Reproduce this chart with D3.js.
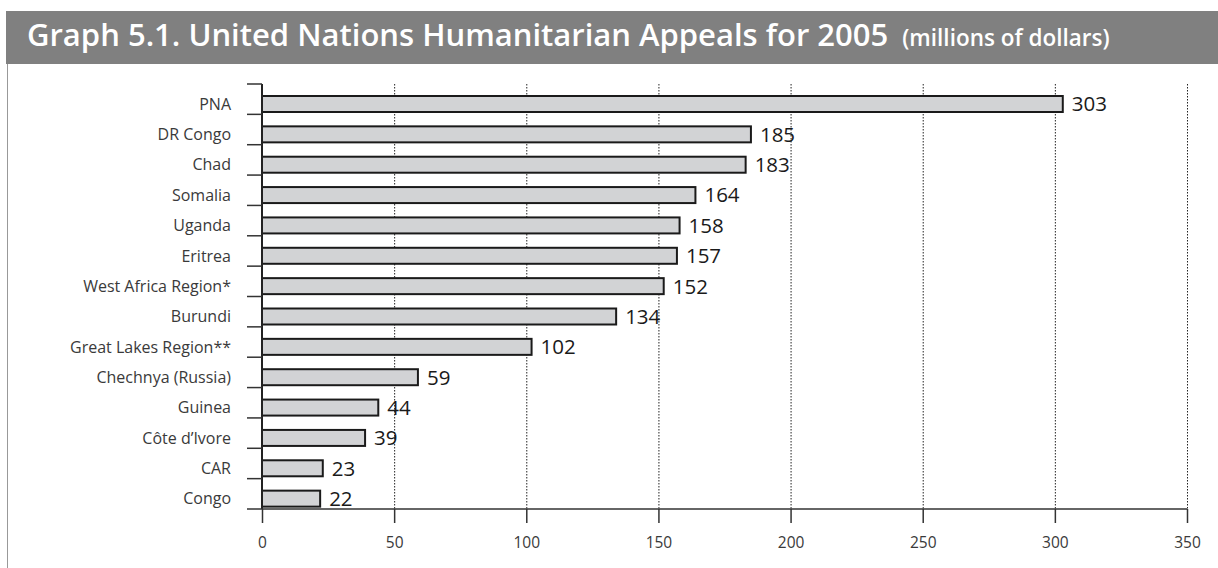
<!DOCTYPE html>
<html><head><meta charset="utf-8">
<script src="https://cdn.jsdelivr.net/npm/d3@7"></script>
<style>body{margin:0;background:#fff;}svg{display:block;}</style>
</head><body>
<svg id="c" width="1218" height="568"></svg>
<script>
const categories = ["PNA","DR Congo","Chad","Somalia","Uganda","Eritrea","West Africa Region*","Burundi","Great Lakes Region**","Chechnya (Russia)","Guinea","Côte d’Ivore","CAR","Congo"];
const values = [303,185,183,164,158,157,152,134,102,59,44,39,23,22];
const xTicks = [0,50,100,150,200,250,300,350];
const titleMain = "Graph 5.1. United Nations Humanitarian Appeals for 2005";
const titleSub = "(millions of dollars)";

const svg = d3.select("#c");
const font = "'Open Sans', 'Noto Sans', sans-serif";

// title bar
svg.append("rect").attr("x",6).attr("y",11).attr("width",1212).attr("height",53).attr("fill","#808080");
const t = svg.append("text").attr("x",27).attr("y",46).attr("fill","#fff").attr("font-family",font);
t.append("tspan").attr("font-size",31).attr("font-weight",600).text(titleMain);
t.append("tspan").attr("font-size",22.5).attr("font-weight",600).attr("dx",14).text(titleSub);

// left border
svg.append("line").attr("x1",7.5).attr("x2",7.5).attr("y1",64).attr("y2",568).attr("stroke","#999").attr("stroke-width",1);

const x = d3.scaleLinear().domain([0,350]).range([262,1187]);
const y = d3.scaleBand().domain(categories).range([84,509]);

// gridlines
svg.append("g").selectAll("line").data(xTicks).join("line")
  .attr("x1",d=>x(d)+0.5).attr("x2",d=>x(d)+0.5).attr("y1",84).attr("y2",509)
  .attr("stroke","#222").attr("stroke-width",1).attr("stroke-dasharray","1.5,1.5");

// bars
const bh = 16;
svg.append("g").selectAll("rect").data(values).join("rect")
  .attr("x",x(0)).attr("y",(d,i)=>y(categories[i])+12)
  .attr("width",d=>x(d)-x(0)).attr("height",bh)
  .attr("fill","#d2d3d5").attr("stroke","#1a1a1a").attr("stroke-width",2);

// value labels
svg.append("g").selectAll("text").data(values).join("text")
  .attr("x",d=>x(d)+9).attr("y",(d,i)=>y(categories[i])+12+bh/2)
  .attr("dy","0.36em").attr("font-family",font).attr("font-size",20.5).attr("fill","#1a1a1a")
  .text(d=>d);

// y axis
const ya = svg.append("g");
ya.append("line").attr("x1",262).attr("x2",262).attr("y1",84).attr("y2",509).attr("stroke","#222").attr("stroke-width",2);
ya.selectAll("line.tk").data(categories).join("line").attr("class","tk")
  .attr("x1",247).attr("x2",262).attr("y1",d=>y(d)).attr("y2",d=>y(d))
  .attr("stroke","#333").attr("stroke-width",1.5);
ya.selectAll("text").data(categories).join("text")
  .attr("x",231).attr("y",d=>y(d)+12+bh/2).attr("dy","0.36em")
  .attr("text-anchor","end").attr("font-family",font).attr("font-size",16).attr("font-weight",400).attr("fill","#3a3a3a")
  .text(d=>d);

// x axis
const xa = svg.append("g").attr("transform","translate(0,509)")
  .call(d3.axisBottom(x).tickValues(xTicks).tickSize(14).tickPadding(14).tickSizeOuter(0));
xa.select(".domain").attr("stroke","#333").attr("stroke-width",1.5).attr("d","M247,0H1187");
xa.selectAll(".tick line").attr("stroke","#333").attr("stroke-width",1.5);
xa.selectAll(".tick text").attr("font-family",font).attr("font-size",15.5).attr("font-weight",400).attr("fill","#3a3a3a");
</script>
</body></html>
